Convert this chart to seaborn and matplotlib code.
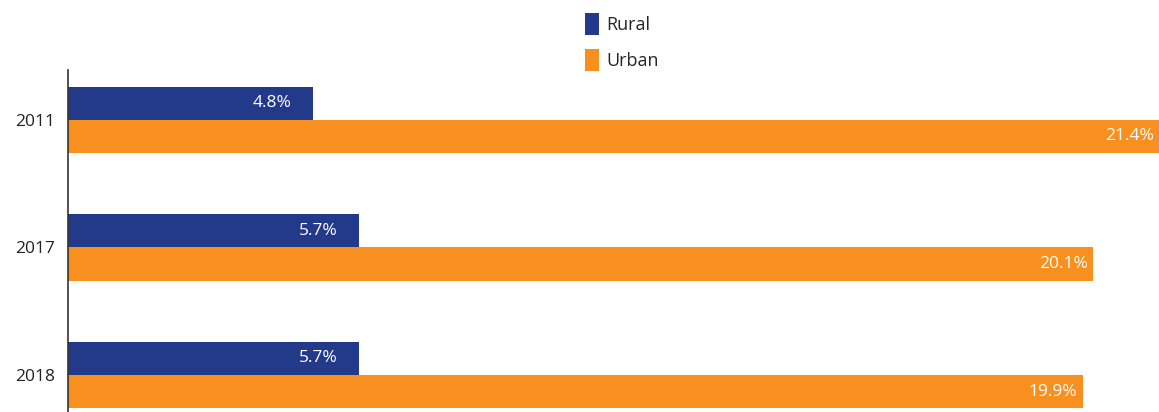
import matplotlib
matplotlib.use("Agg")
import matplotlib.pyplot as plt
import seaborn as sns
import pandas as pd
from matplotlib.patches import Patch

years = ["2011", "2017", "2018"]
rural = [4.8, 5.7, 5.7]
urban = [21.4, 20.1, 19.9]
series = ["Rural", "Urban"]
colors = {"Rural": "#233a8b", "Urban": "#f7901e"}

df = pd.DataFrame({
    "year": years * 2,
    "value": rural + urban,
    "area": ["Rural"] * 3 + ["Urban"] * 3,
})

sns.set_theme(style="white")
plt.rcParams['font.family'] = ['Open Sans', 'DejaVu Sans']

fig = plt.figure(figsize=(11.59, 4.12), dpi=100)
ax = fig.add_axes([68 / 1159, 0.0, 1 - 68 / 1159, 1 - 70 / 412])

sns.barplot(data=df, x="value", y="year", hue="area", orient="h",
            palette=colors, width=0.52, saturation=1, ax=ax, legend=False,
            errorbar=None, linewidth=0, edgecolor="none")

ax.set_xlim(0, 21.4)
ax.set_ylim(2.29, -0.39)
ax.set_xlabel("")
ax.set_ylabel("")
ax.set_xticks([])
ax.tick_params(axis="y", length=0, labelsize=12.5, pad=9, colors="#222222")
for s in ["top", "right", "bottom"]:
    ax.spines[s].set_visible(False)
ax.spines["left"].set_color("#333333")
ax.spines["left"].set_linewidth(1.2)

off = 0.13
for i, (r, u) in enumerate(zip(rural, urban)):
    ax.text(r - 0.42, i - off, f"{r}%", ha="right", va="center",
            color="white", fontsize=12.5)
    ax.text(u - 0.1, i + off, f"{u}%", ha="right", va="center",
            color="white", fontsize=12.5)

handles = [Patch(facecolor=colors[s], edgecolor="none", label=s) for s in series]
fig.legend(handles=handles, loc="upper left", bbox_to_anchor=(572 / 1159, 1.0),
           frameon=False, handlelength=0.8, handleheight=1.5, handletextpad=0.4,
           labelspacing=0.8, fontsize=13, borderaxespad=0.3)

fig.savefig("out.png", dpi=100)
